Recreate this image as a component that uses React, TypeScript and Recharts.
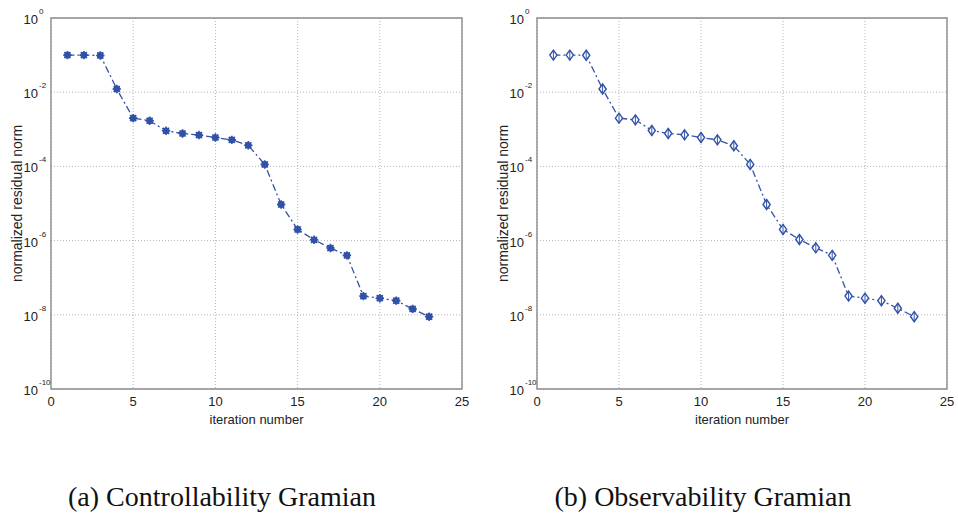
import { LineChart, Line, XAxis, YAxis, CartesianGrid, ReferenceArea } from 'recharts'

// iteration index on the horizontal axis
const ITERATIONS = [1, 2, 3, 4, 5, 6, 7, 8, 9, 10, 11, 12, 13, 14, 15, 16, 17, 18, 19, 20, 21, 22, 23]

// normalized residual norm per iteration
const CONTROLLABILITY = [
  1.0e-1, 1.0e-1, 9.8e-2, 1.22e-2, 2.0e-3, 1.7e-3, 9.1e-4, 7.7e-4, 7.0e-4, 6.0e-4, 5.2e-4, 3.7e-4,
  1.13e-4, 9.4e-6, 2.0e-6, 1.05e-6, 6.3e-7, 4.0e-7, 3.2e-8, 2.8e-8, 2.4e-8, 1.44e-8, 8.9e-9,
]
const OBSERVABILITY = [
  1.0e-1, 1.0e-1, 9.9e-2, 1.22e-2, 2.0e-3, 1.8e-3, 9.3e-4, 7.7e-4, 7.1e-4, 6.0e-4, 5.2e-4, 3.6e-4,
  1.13e-4, 9.4e-6, 2.0e-6, 1.07e-6, 6.4e-7, 4.0e-7, 3.2e-8, 2.8e-8, 2.4e-8, 1.5e-8, 8.9e-9,
]

const X_TICKS = [0, 5, 10, 15, 20, 25]
const Y_TICKS = [1, 1e-2, 1e-4, 1e-6, 1e-8, 1e-10]

const BLUE = '#3152a8'
const AXIS_FONT = "'Liberation Sans', Arial, sans-serif"
const CAPTION_FONT = "'Liberation Serif', 'DejaVu Serif', serif"

function toRows(values: number[]) {
  return ITERATIONS.map((it, i) => ({ iter: it, res: values[i] }))
}

// "10" with the exponent as a superscript, MATLAB style
function PowerTick(props: any) {
  const { y, payload, left } = props
  const exp = Math.round(Math.log10(payload.value))
  const xr = left - 13
  return (
    <g>
      <text x={xr} y={y + 6} textAnchor="end" fontSize={13} fontFamily={AXIS_FONT} fill="#222">10</text>
      <text x={xr + 1} y={y - 4} textAnchor="start" fontSize={8} fontFamily={AXIS_FONT} fill="#222">{String(exp)}</text>
    </g>
  )
}

function StarDot(props: any) {
  const { cx, cy } = props
  if (cx == null || cy == null) return null
  const r = 4.2
  const d = r * 0.72
  return (
    <g stroke={BLUE} strokeWidth={1.6}>
      <circle cx={cx} cy={cy} r={2.6} fill={BLUE} />
      <line x1={cx - r} y1={cy} x2={cx + r} y2={cy} />
      <line x1={cx} y1={cy - r} x2={cx} y2={cy + r} />
      <line x1={cx - d} y1={cy - d} x2={cx + d} y2={cy + d} />
      <line x1={cx - d} y1={cy + d} x2={cx + d} y2={cy - d} />
    </g>
  )
}

function DiamondDot(props: any) {
  const { cx, cy } = props
  if (cx == null || cy == null) return null
  return (
    <g stroke={BLUE} strokeWidth={1.4}>
      <path d={`M${cx},${cy - 5} L${cx + 3.6},${cy} L${cx},${cy + 5} L${cx - 3.6},${cy} Z`} fill="#fff" />
      <line x1={cx} y1={cy - 5} x2={cx} y2={cy + 5} strokeWidth={1} />
    </g>
  )
}

function ResidualPlot({ values, yAxisWidth, rightGap, labelOffset, marker }: {
  values: number[]
  yAxisWidth: number
  rightGap: number
  labelOffset: number
  marker: 'star' | 'diamond'
}) {
  return (
    <LineChart width={479} height={440} data={toRows(values)} margin={{ top: 18, right: rightGap, bottom: 11, left: 0 }}>
      <CartesianGrid strokeDasharray="1 2" stroke="#b4b4b4" />
      <XAxis
        dataKey="iter"
        type="number"
        domain={[0, 25]}
        ticks={X_TICKS}
        height={40}
        axisLine={false}
        tickLine={false}
        tick={{ fill: '#222', fontSize: 13, fontFamily: AXIS_FONT }}
        label={{ value: 'iteration number', position: 'insideBottom', offset: 5, fill: '#222', fontSize: 13, fontFamily: AXIS_FONT }}
      />
      <YAxis
        dataKey="res"
        scale="log"
        domain={[1e-10, 1]}
        allowDataOverflow
        ticks={Y_TICKS}
        width={yAxisWidth}
        axisLine={false}
        tickLine={false}
        tick={<PowerTick left={yAxisWidth} />}
        label={{
          value: 'normalized residual norm',
          angle: -90,
          position: 'insideLeft',
          offset: labelOffset,
          style: { textAnchor: 'middle' },
          fill: '#222',
          fontSize: 14,
          fontFamily: AXIS_FONT,
        }}
      />
      <ReferenceArea x1={0} x2={25} y1={1e-10} y2={1} fill="none" stroke="#8c8c8c" strokeWidth={1.4} />
      <Line
        type="linear"
        dataKey="res"
        stroke={BLUE}
        strokeWidth={1.3}
        strokeDasharray="7 3 2 3"
        dot={marker === 'star' ? <StarDot /> : <DiamondDot />}
        activeDot={false}
        isAnimationActive={false}
      />
    </LineChart>
  )
}

const captionStyle: React.CSSProperties = {
  position: 'absolute',
  top: 482,
  width: 400,
  textAlign: 'center',
  fontFamily: CAPTION_FONT,
  fontSize: 28,
  lineHeight: '30px',
  color: '#111',
}

export default function App() {
  return (
    <div style={{ position: 'absolute', left: 0, top: 0, width: 958, height: 515, background: '#fff', overflow: 'hidden' }}>
      <div style={{ position: 'absolute', left: 0, top: 0 }}>
        <ResidualPlot values={CONTROLLABILITY} yAxisWidth={51} rightGap={17} labelOffset={17} marker="star" />
      </div>
      <div style={{ position: 'absolute', left: 479, top: 0 }}>
        <ResidualPlot values={OBSERVABILITY} yAxisWidth={58} rightGap={11} labelOffset={24} marker="diamond" />
      </div>
      <div style={{ ...captionStyle, left: 22 }}>(a) Controllability Gramian</div>
      <div style={{ ...captionStyle, left: 503 }}>(b) Observability Gramian</div>
    </div>
  )
}
